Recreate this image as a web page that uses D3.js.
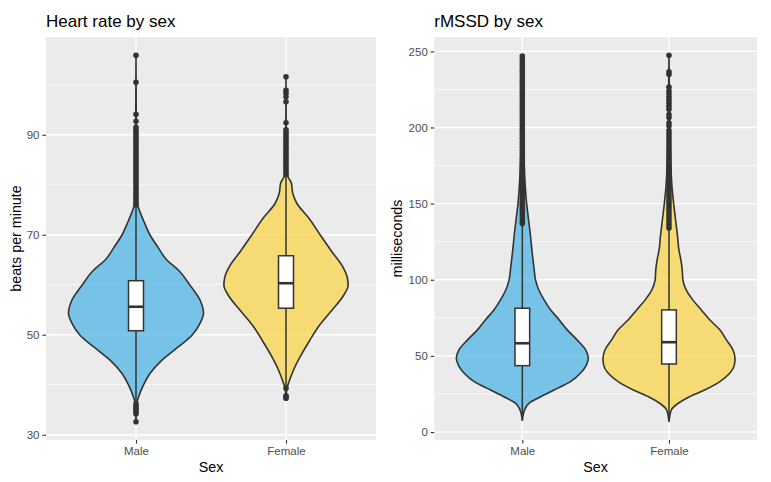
<!DOCTYPE html>
<html>
<head>
<meta charset="utf-8">
<script src="https://cdn.jsdelivr.net/npm/d3@7"></script>
<style>
  body { margin: 0; background: #fff; }
  svg text { font-family: "Liberation Sans", Arial, Helvetica, sans-serif; }
</style>
</head>
<body>
<div id="chart"></div>
<script>
var categories = ['Male', 'Female'];
var hrTicks = [30, 50, 70, 90];
var hrMinor = [40, 60, 80, 100];
var rmssdTicks = [0, 50, 100, 150, 200, 250];
var rmssdMinor = [25, 75, 125, 175, 225];

// violin outlines: [value, relative density]
var hrMaleDensity = [[32.6, 0], [36.3, 0.015], [37.6, 0.04], [39.9, 0.11], [42.3, 0.21], [44.9, 0.385],
    [47.6, 0.63], [49.9, 0.83], [52.3, 0.95], [54.3, 1.0], [56.9, 0.95], [59.9, 0.8], [62.9, 0.63],
    [64.9, 0.46], [67.6, 0.32], [69.9, 0.21], [72.9, 0.11], [74.9, 0.05], [76.3, 0.02], [78, 0.01],
    [85, 0.005], [95, 0.003], [105.9, 0]];
var hrFemaleDensity = [[37.4, 0], [39.3, 0.015], [40.6, 0.045], [42.9, 0.11], [45.6, 0.21], [48.6, 0.34],
    [51.6, 0.48], [54.9, 0.68], [57.6, 0.84], [59.9, 0.92], [61.3, 0.91], [63.6, 0.84], [66.6, 0.68],
    [69.9, 0.51], [73.3, 0.34], [76.3, 0.16], [78.3, 0.1], [80.3, 0.08], [81.6, 0.03], [83, 0.01],
    [90, 0.003], [101.6, 0]];
var rmssdMaleDensity = [[7.5, 0], [14.5, 0.035], [18.9, 0.1], [23.2, 0.28], [27.6, 0.48], [33.1, 0.73],
    [38.6, 0.88], [44.0, 0.97], [48.4, 1.0], [53.9, 0.96], [60.5, 0.83], [67.1, 0.68], [73.6, 0.56],
    [80.2, 0.43], [86.8, 0.33], [93.3, 0.25], [99.9, 0.2], [106.5, 0.18], [117.5, 0.15], [128.4, 0.125],
    [139.4, 0.095], [150.3, 0.065], [161.3, 0.045], [180, 0.025], [200, 0.012], [220, 0.006], [247.8, 0]];
var rmssdFemaleDensity = [[6.8, 0], [14.5, 0.035], [18.9, 0.14], [23.2, 0.31], [27.6, 0.54], [33.1, 0.77],
    [38.6, 0.92], [44.0, 0.99], [48.4, 1.0], [53.9, 0.97], [60.5, 0.87], [67.1, 0.77], [73.6, 0.62],
    [80.2, 0.49], [86.8, 0.36], [93.3, 0.26], [99.9, 0.21], [106.5, 0.2], [113.1, 0.18], [119.6, 0.15],
    [128.4, 0.13], [139.4, 0.1], [150.3, 0.07], [161.3, 0.045], [180, 0.025], [200, 0.012], [220, 0.006],
    [247.4, 0]];

// box stats: lower whisker, q1, median, q3, upper whisker
var hrMaleBox = [36.5, 50.8, 55.6, 60.8, 75.8];
var hrFemaleBox = [39.6, 55.3, 60.3, 65.8, 81.5];
var rmssdMaleBox = [7.5, 43.6, 58.3, 81.3, 136];
var rmssdFemaleBox = [6.8, 44.7, 59.0, 80.2, 133];

var hrMaleOutliers = [32.6, 34.2, 34.6, 35, 35.4, 35.8, 36.2,
    76, 76.5, 77, 77.5, 78, 78.5, 79, 79.5, 80, 80.5, 81, 81.5, 82, 82.5, 83, 83.5, 84, 84.5, 85, 85.5,
    86, 86.5, 87, 87.5, 88, 88.5, 89, 89.5, 90, 90.5, 91, 91.5, 92.7, 94.1, 100.5, 105.9];
var hrFemaleOutliers = [37.3, 37.5, 37.8, 39.3,
    82, 82.5, 83, 83.5, 84, 84.5, 85, 85.5, 86, 86.5, 87, 87.5, 88, 88.5, 89, 89.5, 90, 90.5, 91,
    92.4, 96.6, 97.6, 98.3, 98.9, 101.6];
var rmssdMaleOutliers = [137, 139, 141, 143, 145, 147, 149, 151, 153, 155, 157, 159, 161, 163, 165, 167,
    169, 171, 173, 175, 177, 179, 181, 183, 185, 187, 189, 191, 193, 195, 197, 199, 201, 203, 205, 207,
    209, 211, 213, 215, 217, 219, 221, 223, 225, 227, 229, 231, 233, 235, 237, 239, 241, 243, 245, 247];
var rmssdFemaleOutliers = [134, 136, 138, 140, 142, 144, 146, 148, 150, 152, 154, 156, 158, 160, 162, 164,
    166, 168, 170, 172, 174, 176, 178, 180, 182, 184, 186, 188, 190, 192, 194, 196, 198,
    201, 203, 206.5, 208.5, 212, 214, 216, 218, 220, 222, 224, 226.5, 234.8, 236.5, 247.4];

var fills = ['#4FB6E6', '#F9D64E'];
var ink = '#333333';

var svg = d3.select('#chart')
    .append('svg')
    .attr('width', 771)
    .attr('height', 482);

function drawPanel(opt) {
    var top = 37, bottom = 440;
    var all = [];
    opt.outliers.forEach(function(o) { all = all.concat(o); });
    opt.boxes.forEach(function(b) { all = all.concat(b); });
    var ext = d3.extent(all);
    var pad = (ext[1] - ext[0]) * 0.05;

    var y = d3.scaleLinear()
        .domain([ext[0] - pad, ext[1] + pad])
        .range([bottom, top]);

    var x = d3.scalePoint()
        .domain(categories)
        .range([opt.left, opt.right])
        .padding(0.6);

    var g = svg.append('g');

    g.append('rect')
        .attr('x', opt.left)
        .attr('y', top)
        .attr('width', opt.right - opt.left)
        .attr('height', bottom - top)
        .attr('fill', '#EBEBEB');

    // grid
    g.selectAll('.minor')
        .data(opt.minor)
        .enter()
        .append('line')
        .attr('x1', opt.left).attr('x2', opt.right)
        .attr('y1', function(d) { return y(d); })
        .attr('y2', function(d) { return y(d); })
        .attr('stroke', '#fff')
        .attr('stroke-width', 0.7);

    g.selectAll('.major')
        .data(opt.ticks)
        .enter()
        .append('line')
        .attr('x1', opt.left).attr('x2', opt.right)
        .attr('y1', function(d) { return y(d); })
        .attr('y2', function(d) { return y(d); })
        .attr('stroke', '#fff')
        .attr('stroke-width', 1.4);

    g.selectAll('.vgrid')
        .data(categories)
        .enter()
        .append('line')
        .attr('x1', function(d) { return x(d); })
        .attr('x2', function(d) { return x(d); })
        .attr('y1', top).attr('y2', bottom)
        .attr('stroke', '#fff')
        .attr('stroke-width', 1.4);

    var maxD = d3.max(opt.densities, function(dd) { return d3.max(dd, function(p) { return p[1]; }); });
    var w = d3.scaleLinear().domain([0, maxD]).range([0, 0.45 * x.step()]);

    // violins
    opt.densities.forEach(function(dd, i) {
        var cx = x(categories[i]);
        var area = d3.area()
            .y(function(p) { return y(p[0]); })
            .x0(function(p) { return cx - w(p[1]); })
            .x1(function(p) { return cx + w(p[1]); })
            .curve(d3.curveMonotoneY);
        g.append('path')
            .attr('d', area(dd))
            .attr('fill', fills[i])
            .attr('fill-opacity', 0.75)
            .attr('stroke', ink)
            .attr('stroke-width', 1.6);
    });

    // boxplots
    var bw = 0.1 * x.step();
    opt.boxes.forEach(function(b, i) {
        var cx = x(categories[i]);
        g.append('line')
            .attr('x1', cx).attr('x2', cx)
            .attr('y1', y(b[0])).attr('y2', y(b[4]))
            .attr('stroke', ink)
            .attr('stroke-width', 1.5);
        g.append('rect')
            .attr('x', cx - bw / 2)
            .attr('y', y(b[3]))
            .attr('width', bw)
            .attr('height', y(b[1]) - y(b[3]))
            .attr('fill', '#fff')
            .attr('stroke', ink)
            .attr('stroke-width', 1.5);
        g.append('line')
            .attr('x1', cx - bw / 2).attr('x2', cx + bw / 2)
            .attr('y1', y(b[2])).attr('y2', y(b[2]))
            .attr('stroke', ink)
            .attr('stroke-width', 2.6);
    });

    // outliers
    opt.outliers.forEach(function(o, i) {
        var cx = x(categories[i]);
        g.selectAll('.pt' + i)
            .data(o)
            .enter()
            .append('circle')
            .attr('cx', cx)
            .attr('cy', function(d) { return y(d); })
            .attr('r', 2.8)
            .attr('fill', ink);
    });

    // axes
    var ya = g.append('g')
        .attr('transform', 'translate(' + opt.left + ',0)')
        .call(d3.axisLeft(y).tickValues(opt.ticks).tickSize(3.6).tickPadding(2.9));
    var xa = g.append('g')
        .attr('transform', 'translate(0,' + bottom + ')')
        .call(d3.axisBottom(x).tickSize(3.6).tickPadding(3.2));
    [ya, xa].forEach(function(a) {
        a.select('.domain').remove();
        a.selectAll('line').attr('stroke', ink).attr('stroke-width', 1.1);
        a.selectAll('text')
            .attr('fill', null)
            .style('fill', '#4D4D4D')
            .style('font-size', '11.5px')
            .style('font-family', '"Liberation Sans", Arial, sans-serif');
    });

    g.append('text')
        .attr('x', opt.left)
        .attr('y', 27)
        .style('font-size', '17px')
        .text(opt.title);

    g.append('text')
        .attr('x', (opt.left + opt.right) / 2)
        .attr('y', 472)
        .attr('text-anchor', 'middle')
        .style('font-size', '14.3px')
        .text('Sex');

    g.append('text')
        .attr('transform', 'translate(' + opt.yTitleX + ',' + ((top + bottom) / 2) + ') rotate(-90)')
        .attr('text-anchor', 'middle')
        .style('font-size', '14.3px')
        .text(opt.yTitle);
}

drawPanel({
    left: 46, right: 376,
    title: 'Heart rate by sex',
    yTitle: 'beats per minute',
    yTitleX: 21,
    ticks: hrTicks, minor: hrMinor,
    densities: [hrMaleDensity, hrFemaleDensity],
    boxes: [hrMaleBox, hrFemaleBox],
    outliers: [hrMaleOutliers, hrFemaleOutliers]
});

drawPanel({
    left: 434.3, right: 757,
    title: 'rMSSD by sex',
    yTitle: 'milliseconds',
    yTitleX: 402,
    ticks: rmssdTicks, minor: rmssdMinor,
    densities: [rmssdMaleDensity, rmssdFemaleDensity],
    boxes: [rmssdMaleBox, rmssdFemaleBox],
    outliers: [rmssdMaleOutliers, rmssdFemaleOutliers]
});
</script>
</body>
</html>
